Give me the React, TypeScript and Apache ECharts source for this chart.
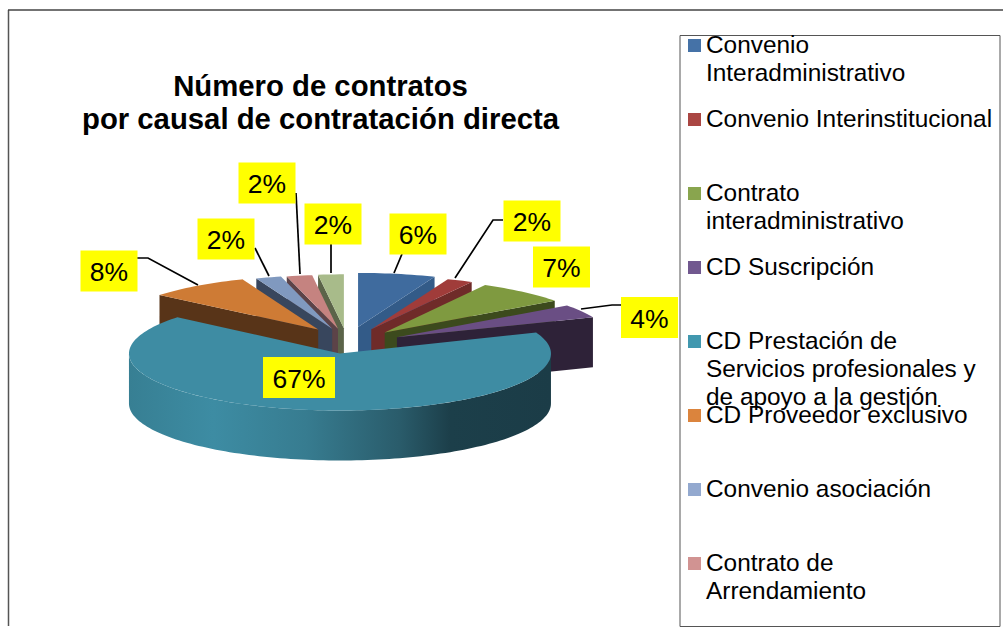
import React, { useEffect, useRef } from "react";
import * as echarts from "echarts";

const categories = [
  "Convenio\nInteradministrativo",
  "Convenio Interinstitucional",
  "Contrato\ninteradministrativo",
  "CD Suscripción",
  "CD Prestación de\nServicios profesionales y\nde apoyo a la gestión",
  "CD Proveedor exclusivo",
  "Convenio asociación",
  "Contrato de\nArrendamiento",
  "",
];
const values = [6, 2, 7, 4, 67, 8, 2, 2, 2];
const topColors = ["#3f6b9e", "#a03c3a", "#7f9a40", "#6a4e84", "#3e8ca3", "#ce7b35", "#8099bf", "#c58380", "#a8bb8a"];
const sideColors = ["#335b88", "#6f2b29", "#3c4a1d", "#2e2238", "#1c3d48", "#583418", "#38465d", "#5c4348", "#5b6449"];
const legendColors = ["#4572a7", "#aa4643", "#89a54e", "#71588f", "#4198af", "#db843d", "#93a9cf", "#d19392", "#b9cd96"];
const explode = [59, 57, 57, 57, 45, 49, 48, 48, 50];
const labelCenters = [[418, 234], [532, 221], [561.5, 267], [649.5, 317.5], [299, 377.5], [109, 271], [226, 239], [267, 183], [333, 224]];
const leaders = [
  [[394, 273], [402, 254]],
  [[455, 278], [493, 220], [503, 220]],
  [],
  [[581, 309], [612, 305], [621, 305]],
  [],
  [[198, 285], [148, 258], [137, 258]],
  [[269, 276], [255, 248]],
  [[300, 274], [296, 193]],
  [[331, 273], [331, 244]],
];

const CX = 347, CY = 342, RX = 206, RY = 54, DEPTH = 50, TEAL_RX = 211, FONT = '"Liberation Sans", Arial, sans-serif';
const total = values.reduce((a, b) => a + b, 0);
let acc = 0;
const slices = values.map((v, i) => {
  const start = (acc / total) * 360;
  acc += v;
  const end = (acc / total) * 360;
  return { i, start, end, mid: (start + end) / 2 };
});
const rad = (d: number) => (d * Math.PI) / 180;
const paintOrder = [...slices].sort((a, b) => Math.cos(rad(b.mid)) - Math.cos(rad(a.mid))).map((s) => s.i);

function renderSlice(_: any, api: any) {
  const s = slices[api.value(0)];
  const big = s.end - s.start > 180;
  const rx = big ? TEAL_RX : RX;
  const ry = big ? 57 : RY;
  const ax = CX + explode[s.i] * Math.sin(rad(s.mid));
  const ay = CY - explode[s.i] * 0.27 * Math.cos(rad(s.mid)) + 3 * Math.sin(rad(s.mid));
  const P = (t: number, dz = 0) => {
    const sn = Math.sin(rad(t));
    const k = big ? 1 : 1 + 0.025 * Math.max(0, sn);
    return [ax + rx * k * sn, ay - ry * Math.cos(rad(t)) + dz];
  };
  const children: any[] = [];
  const side = sideColors[s.i];
  if (!big) {
    const t = Math.sin(rad(s.mid)) > 0 ? s.end : s.start;
    children.push({
      type: "polygon",
      shape: { points: [P(t), [ax, ay], [ax, ay + DEPTH], P(t, DEPTH)] },
      style: { fill: side },
    });
  } else {
    const from = Math.max(90, s.start), to = Math.min(270, s.end);
    const upper: number[][] = [], lower: number[][] = [];
    for (let t = from; t <= to; t += 1.5) { upper.push(P(t)); lower.unshift(P(t, DEPTH)); }
    children.push({
      type: "polygon",
      shape: { points: upper.concat(lower) },
      style: {
        fill: new echarts.graphic.LinearGradient(0, 0, 1, 0, [
          { offset: 0, color: "#377f93" },
          { offset: 0.2, color: "#3d8ca3" },
          { offset: 0.42, color: "#377c90" },
          { offset: 0.64, color: "#2a5c6b" },
          { offset: 0.76, color: "#1c3f4a" },
          { offset: 1, color: "#1b3c47" },
        ]),
      },
    });
  }
  const top: number[][] = [[ax, ay]];
  for (let t = s.start; t < s.end; t += 1.5) top.push(P(t));
  top.push(P(s.end));
  children.push({ type: "polygon", shape: { points: top }, style: { fill: topColors[s.i] } });
  return { type: "group", children };
}

function buildGraphic() {
  const els: any[] = [];
  const tx = (text: string, x: number, y: number, size: number, align: string, va: string, lh?: number) => ({
    type: "text",
    z: 100,
    style: { text, x, y, fill: "#000", font: `${size}px ${FONT}`, textAlign: align, align, textVerticalAlign: va, verticalAlign: va, lineHeight: lh },
  });
  els.push({ type: "line", z: 90, shape: { x1: 8.5, y1: 10, x2: 8.5, y2: 626 }, style: { stroke: "#555", lineWidth: 1.5 } });
  els.push({ type: "line", z: 90, shape: { x1: 8, y1: 10, x2: 1003, y2: 10 }, style: { stroke: "#444", lineWidth: 1.5 } });
  els.push({ type: "rect", z: 90, shape: { x: 680, y: 35.5, width: 320, height: 591 }, style: { fill: "#fff", stroke: "#555", lineWidth: 1 } });
  categories.forEach((name, i) => {
    if (!name) return;
    const y = 39 + i * 74;
    els.push({ type: "rect", z: 95, shape: { x: 688, y, width: 13, height: 13 }, style: { fill: legendColors[i] } });
    els.push(tx(name, 706, y - 9, 24.4, "left", "top", 28));
  });
  leaders.forEach((pts) => {
    if (pts.length) els.push({ type: "polyline", z: 98, shape: { points: pts }, style: { stroke: "#000", lineWidth: 1.7, fill: "none" } });
  });
  labelCenters.forEach(([x, y], i) => {
    const w = values[i] >= 10 ? 72 : 57;
    els.push({ type: "rect", z: 99, shape: { x: x - w / 2, y: y - 20.5, width: w, height: 41 }, style: { fill: "#ffff00" } });
    els.push(tx(`${values[i]}%`, x, y + 1, 26.5, "center", "middle"));
  });
  return els;
}

export default function App() {
  const ref = useRef<HTMLDivElement>(null);
  useEffect(() => {
    const chart = echarts.init(ref.current!, null, { renderer: "svg" });
    chart.setOption({
      animation: false,
      backgroundColor: "#fff",
      title: {
        text: "Número de contratos\npor causal de contratación directa",
        left: 315.5,
        top: 64,
        textAlign: "center",
        textStyle: { fontFamily: FONT, fontSize: 29.3, fontWeight: "bold", color: "#000", lineHeight: 33 },
      },
      series: [{
        type: "custom",
        coordinateSystem: "none",
        silent: true,
        data: paintOrder.map((i) => [i]),
        renderItem: renderSlice,
      }],
      graphic: buildGraphic(),
    });
    return () => chart.dispose();
  }, []);
  return <div ref={ref} style={{ position: "fixed", left: 0, top: 0, width: 1003, height: 627 }} />;
}
